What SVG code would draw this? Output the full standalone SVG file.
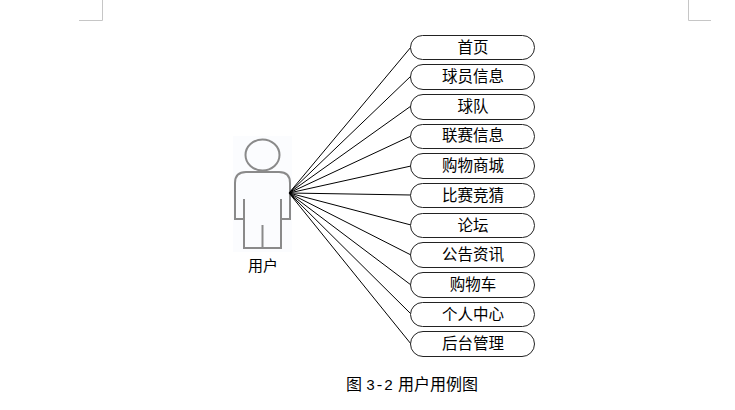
<svg xmlns="http://www.w3.org/2000/svg" width="735" height="410" viewBox="0 0 735 410">
<style>
text{font-family:"Noto Sans CJK SC","Liberation Sans",sans-serif;fill:#000;text-anchor:middle}
.u rect{fill:#fff;stroke:#222;stroke-width:1}
.u text{font-size:15.500px}
.c line{stroke:#000;stroke-width:1}
.f{fill:none;stroke:#8a8a8a;stroke-width:2}
.m{stroke:#c6c6c6;stroke-width:1;fill:none}
</style>
<path class="m" d="M79 20.500H102.500V0M711 20.500H688.500V0"/>
<g id="actor">
<rect x="233" y="136" width="59" height="116" fill="#fbfcfe"/>
<ellipse class="f" cx="262.500" cy="155" rx="17" ry="15.500"/>
<path class="f" d="M244 219H235V183Q235 172 246 172H279Q290 172 290 183V219H281M244 199V248H281V199M262.500 225V248"/>
<text x="263" y="271" font-size="15">用户</text>
</g>
<g id="connectors" class="c">
<line x1="289" y1="193" x2="411" y2="47"/>
<line x1="289" y1="193" x2="411" y2="76"/>
<line x1="289" y1="193" x2="411" y2="106"/>
<line x1="289" y1="193" x2="411" y2="136"/>
<line x1="289" y1="193" x2="411" y2="166"/>
<line x1="289" y1="193" x2="411" y2="195"/>
<line x1="289" y1="193" x2="411" y2="225"/>
<line x1="289" y1="193" x2="411" y2="255"/>
<line x1="289" y1="193" x2="411" y2="285"/>
<line x1="289" y1="193" x2="411" y2="314"/>
<line x1="289" y1="193" x2="411" y2="344"/>
</g>
<g id="n1" class="u"><rect x="410.500" y="35.500" width="124" height="24" rx="12"/><text x="473" y="52.500">首页</text></g>
<g id="n2" class="u"><rect x="410.500" y="64.500" width="124" height="25" rx="12.500"/><text x="473" y="82">球员信息</text></g>
<g id="n3" class="u"><rect x="410.500" y="94.500" width="124" height="25" rx="12.500"/><text x="473" y="112">球队</text></g>
<g id="n4" class="u"><rect x="410.500" y="124.500" width="124" height="24" rx="12"/><text x="473" y="141">联赛信息</text></g>
<g id="n5" class="u"><rect x="410.500" y="153.500" width="124" height="25" rx="12.500"/><text x="473" y="171">购物商城</text></g>
<g id="n6" class="u"><rect x="410.500" y="183.500" width="124" height="24" rx="12"/><text x="473" y="201">比赛竞猜</text></g>
<g id="n7" class="u"><rect x="410.500" y="213.500" width="124" height="24" rx="12"/><text x="473" y="231">论坛</text></g>
<g id="n8" class="u"><rect x="410.500" y="242.500" width="124" height="25" rx="12.500"/><text x="473" y="260">公告资讯</text></g>
<g id="n9" class="u"><rect x="410.500" y="272.500" width="124" height="25" rx="12.500"/><text x="473" y="290">购物车</text></g>
<g id="n10" class="u"><rect x="410.500" y="302.500" width="124" height="24" rx="12"/><text x="473" y="319.500">个人中心</text></g>
<g id="n11" class="u"><rect x="410.500" y="331.500" width="124" height="25" rx="12.500"/><text x="473" y="349">后台管理</text></g>
<text y="390" font-size="16" style="text-anchor:start"><tspan x="346">图</tspan><tspan x="366" style="font-family:'Liberation Mono',monospace" font-size="15">3-2</tspan><tspan x="398">用户用例图</tspan></text>
</svg>
